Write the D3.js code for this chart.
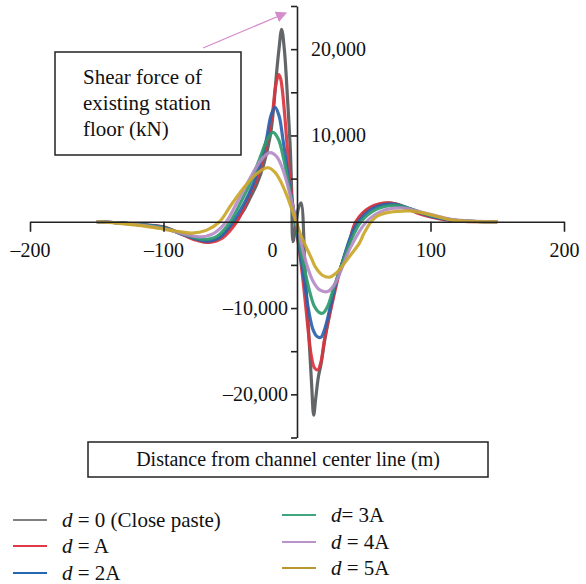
<!DOCTYPE html>
<html lang="en">
<head>
    <meta charset="UTF-8">
    <title>shear force chart</title>
    <script src="https://d3js.org/d3.v7.min.js"></script>
    <style>
        body { margin: 0; background: #fff; }
        text { font-family: "Liberation Serif", "DejaVu Serif", serif; fill: #111; }
    </style>
</head>
<body>
    <svg width="586" height="584"></svg>
    <script>
        // tick values
        const xTicks = [-200, -100, 0, 100, 200];
        const yTicks = [-25000, -20000, -15000, -10000, -5000, 0, 5000, 10000, 15000, 20000, 25000];
        const yLabelled = [20000, 10000, -10000, -20000];

        // series: [distance (m), shear force (kN)]
        const d0 = [[-150,0],[-135,-100],[-120,-300],[-100,-700],[-85,-1500],[-75,-2050],[-66,-2350],[-58,-1900],[-52,-1000],[-46,0],[-40,1300],[-35,2800],[-30,4400],[-25,6600],[-20,10000],[-17.5,13200],[-15.5,16900],[-13.5,20000],[-11.5,22300],[-9.5,20000],[-7,14000],[-5,8300],[-4,3500],[-3,-2300],[-1,-500],[1,1500],[3,2200],[6,-5500],[9,-13500],[11,-19000],[12.5,-22400],[14,-20500],[16,-18000],[18,-16500],[20.5,-14000],[25,-10200],[29,-7300],[33,-5200],[39,-2500],[44.5,0],[55,1600],[70,2150],[82,1650],[92,1000],[100,650],[110,330],[120,140],[135,30],[150,0]];
        const dA = [[-150,0],[-135,-100],[-120,-300],[-100,-600],[-85,-1550],[-75,-2150],[-66,-2400],[-56,-1900],[-50,-1000],[-45,0],[-40,1500],[-35,3300],[-30,5000],[-25,7600],[-20.5,10700],[-18,13000],[-16.5,15200],[-15,16500],[-13.7,17050],[-12.3,16600],[-11,15300],[-9,12000],[-7,8000],[-5,4500],[-3,1800],[-1,-300],[1,-2500],[3,-4800],[5,-7500],[7,-10500],[9,-13500],[11,-15800],[13,-16900],[15.5,-17170],[18,-16200],[20.5,-13700],[23,-11800],[26,-9700],[30,-7000],[33,-5200],[39,-2470],[44,0],[55,1700],[69,2200],[80,1700],[90,1000],[100,550],[110,250],[125,50],[150,0]];
        const d2A = [[-150,0],[-135,-100],[-120,-300],[-100,-650],[-85,-1500],[-68,-2250],[-58,-1800],[-48,0],[-40,2000],[-33,4300],[-28,6500],[-23,9500],[-19.5,12300],[-16.5,13250],[-13.5,12300],[-10.5,9500],[-8,6800],[-5,3600],[-2,600],[0,-1200],[3,-4300],[6,-7500],[9,-10500],[12,-12500],[15,-13300],[18,-13380],[21,-12300],[25,-9800],[29,-7200],[33,-5200],[40,-1800],[46,0],[57,1550],[71,2050],[83,1600],[93,1000],[100,650],[110,330],[120,140],[135,30],[150,0]];
        const d3A = [[-150,0],[-135,-100],[-120,-320],[-100,-700],[-85,-1450],[-70,-2050],[-60,-1700],[-50,0],[-42,2300],[-35,4500],[-28,7300],[-22,9600],[-18,10350],[-14,9600],[-10,7300],[-7,5000],[-4,2500],[-1,0],[2,-2600],[5,-5000],[9,-7800],[13,-9800],[16.5,-10500],[19.5,-10590],[23,-9800],[27,-7900],[33,-5200],[40,-2300],[48,0],[59,1400],[73,1900],[85,1500],[95,950],[105,550],[115,250],[125,90],[140,10],[150,0]];
        const d4A = [[-150,0],[-135,-120],[-120,-350],[-100,-800],[-85,-1400],[-73,-1750],[-63,-1400],[-53,0],[-45,2200],[-38,4200],[-31,6200],[-25,7500],[-20,8000],[-15,7500],[-10,5800],[-6,3600],[-3,1700],[0,-300],[3,-2400],[7,-4800],[12,-6900],[17,-7900],[23,-8080],[28,-7300],[33,-5600],[40,-3000],[52,0],[63,1200],[78,1600],[90,1250],[100,850],[110,450],[120,180],[135,40],[150,0]];
        const d5A = [[-150,0],[-135,-150],[-120,-400],[-100,-850],[-90,-1100],[-79,-1310],[-68,-1000],[-58,0],[-50,1800],[-43,3300],[-37,4480],[-30,5600],[-21.7,6260],[-17,5800],[-13,4900],[-8,3200],[-4,1500],[-0.7,0],[3,-1600],[8,-3300],[11,-4300],[14,-5300],[19,-6200],[24.5,-6420],[29,-6000],[33,-5300],[40,-3900],[46.7,-2470],[50,-1400],[55.5,0],[60,650],[66,1000],[75,1200],[85,1250],[93,1050],[100,810],[108,500],[115,230],[125,70],[138,0],[150,0]];

        const seriesNames = ['d = 0 (Close paste)', 'd = A', 'd = 2A', 'd= 3A', 'd = 4A', 'd = 5A'];
        const seriesData = [d0, dA, d2A, d3A, d4A, d5A];
        const lineColors = ['#55595b', '#d9343f', '#2b62ae', '#2e9a6e', '#b48bc6', '#c9a72a'];
        const legendColors = ['#808080', '#e03a48', '#2767b0', '#3fa57c', '#b893c9', '#b8972e'];

        const svg = d3.select('svg');

        const xScale = d3.scaleLinear().domain([-200, 200]).range([30, 564]);
        const yScale = d3.scaleLinear().domain([-25000, 25000]).range([437.5, 6]);

        // curves
        const line = d3.line()
            .x(d => xScale(d[0]))
            .y(d => yScale(d[1]))
            .curve(d3.curveCatmullRom.alpha(0.5));

        svg.append('g').selectAll('path')
            .data(seriesData)
            .enter().append('path')
            .attr('d', line)
            .attr('fill', 'none')
            .attr('stroke', (d, i) => lineColors[i])
            .attr('stroke-width', 3.2)
            .attr('stroke-opacity', 0.92)
            .attr('stroke-linejoin', 'round');

        // x axis
        const xAxis = d3.axisBottom(xScale)
            .tickValues(xTicks)
            .tickSize(10)
            .tickSizeOuter(0)
            .tickFormat(d => d < 0 ? '\u2013' + Math.abs(d) : d);
        const gx = svg.append('g')
            .attr('transform', 'translate(' + [0, yScale(0)] + ')')
            .call(xAxis);
        gx.selectAll('text')
            .attr('y', 21)
            .attr('font-size', 20)
            .attr('fill', '#111')
            .attr('dx', d => d === 0 ? -25 : 0);

        // y axis: ticks left, labels placed by hand on either side
        const yAxis = d3.axisLeft(yScale)
            .tickValues(yTicks)
            .tickSize(6)
            .tickSizeOuter(0)
            .tickFormat('');
        svg.append('g')
            .attr('transform', 'translate(' + [xScale(0), 0] + ')')
            .call(yAxis);

        svg.selectAll('.domain, .tick line')
            .attr('stroke', '#222')
            .attr('stroke-width', 1.6);

        const fmt = d3.format(',');
        svg.append('g').selectAll('text')
            .data(yLabelled)
            .enter().append('text')
            .attr('x', d => d > 0 ? xScale(0) + 14 : xScale(0) - 9)
            .attr('y', d => yScale(d))
            .attr('dy', '0.35em')
            .attr('text-anchor', d => d > 0 ? 'start' : 'end')
            .attr('font-size', 20)
            .text(d => (d < 0 ? '\u2013' : '') + fmt(Math.abs(d)));

        // annotation box with arrow
        svg.append('defs').append('marker')
            .attr('id', 'head')
            .attr('viewBox', '0 0 10 10')
            .attr('refX', 9).attr('refY', 5)
            .attr('markerWidth', 11).attr('markerHeight', 11)
            .attr('markerUnits', 'userSpaceOnUse')
            .attr('orient', 'auto')
            .append('path')
            .attr('d', 'M0,0L10,5L0,10Z')
            .attr('fill', '#d48ccc');
        svg.append('line')
            .attr('x1', 203).attr('y1', 48)
            .attr('x2', 286).attr('y2', 13)
            .attr('stroke', '#d48ccc')
            .attr('stroke-width', 1.3)
            .attr('marker-end', 'url(#head)');

        svg.append('rect')
            .attr('x', 55).attr('y', 52)
            .attr('width', 186).attr('height', 103)
            .attr('fill', '#fff')
            .attr('stroke', '#222')
            .attr('stroke-width', 1.5);
        const note = svg.append('text').attr('font-size', 21);
        ['Shear force of', 'existing station', 'floor (kN)'].forEach((t, i) => {
            note.append('tspan').attr('x', 83).attr('y', 84 + i * 26).text(t);
        });

        // x axis title box
        svg.append('rect')
            .attr('x', 88).attr('y', 442)
            .attr('width', 400).attr('height', 35)
            .attr('fill', '#fff')
            .attr('stroke', '#222')
            .attr('stroke-width', 1.5);
        svg.append('text')
            .attr('x', 288).attr('y', 466)
            .attr('text-anchor', 'middle')
            .attr('font-size', 20)
            .text('Distance from channel center line (m)');

        // legend
        const legendPos = [[13, 520], [13, 546], [13, 573], [282, 515], [282, 542], [282, 568]];
        const legend = svg.append('g').selectAll('g')
            .data(seriesNames)
            .enter().append('g')
            .attr('transform', (d, i) => 'translate(' + legendPos[i] + ')');
        legend.append('line')
            .attr('x1', 0).attr('x2', 34)
            .attr('stroke', (d, i) => legendColors[i])
            .attr('stroke-width', 2);
        const lt = legend.append('text')
            .attr('x', 49).attr('y', 7)
            .attr('font-size', 21);
        lt.append('tspan').attr('font-style', 'italic').text(d => d.slice(0, 1));
        lt.append('tspan').text(d => d.slice(1));
    </script>
</body>
</html>
